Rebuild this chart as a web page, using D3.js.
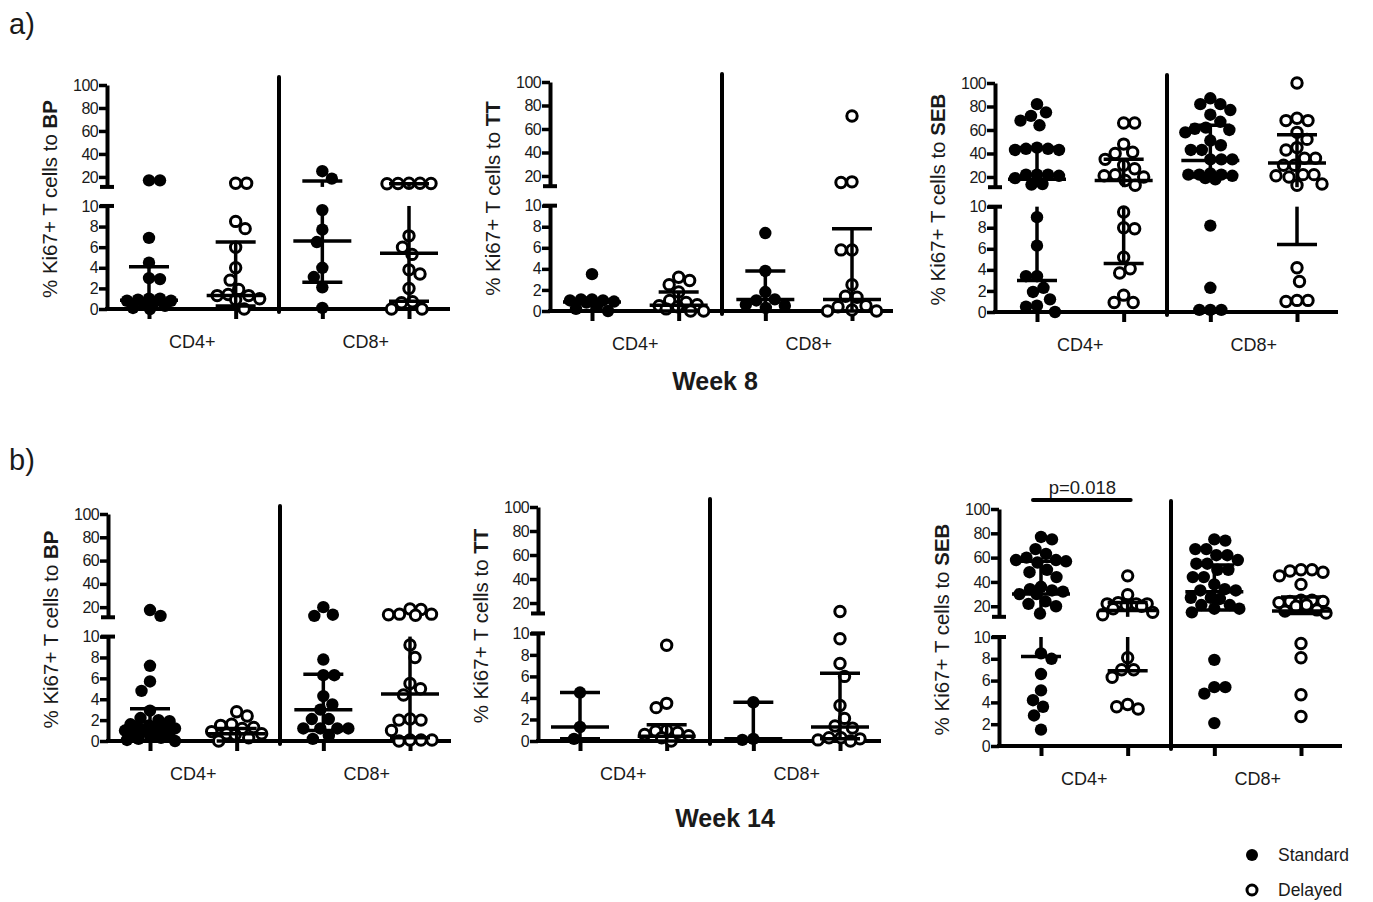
<!DOCTYPE html>
<html>
<head>
<meta charset="utf-8">
<script src="https://cdn.jsdelivr.net/npm/d3@7"></script>
<style>
  body { margin: 0; background: #fff; }
  text { font-family: "Liberation Sans", Arial, sans-serif; fill: #1a1a1a; }
</style>
</head>
<body>
<svg id="fig" width="1373" height="902"></svg>
<script>
// columns inside every panel
const columns = ["CD4+ Standard", "CD4+ Delayed", "CD8+ Standard", "CD8+ Delayed"];
const subsets = ["CD4+", "CD8+"];
const yTicksLow = [0, 2, 4, 6, 8, 10];
const yTicksHigh = [20, 40, 60, 80, 100];
const upLo = 11.3; // value at the foot of the upper (broken) segment

// Week 8 - % Ki67+ per column
const bp8 = [
  [17, 17, 6.9, 4.5, 3.0, 2.9, 1.0, 1.0, 0.9, 0.8, 0.8, 0.7, 0.5, 0.3, 0.1, 0.0],
  [14.5, 14.5, 8.5, 7.8, 6.0, 4.0, 2.8, 1.9, 1.4, 1.3, 1.3, 1.0, 0.9, 0.0],
  [25, 18.5, 9.6, 7.7, 6.5, 4.0, 3.1, 2.1, 0.1],
  [14.5, 14.3, 14, 14.3, 14.5, 7.1, 6.0, 5.3, 3.8, 3.4, 2.0, 0.7, 0.6, 0.0, 0.0]
];
const tt8 = [
  [3.5, 1.1, 1.1, 1.0, 1.0, 0.9, 0.8, 0.5, 0.2, 0.0],
  [3.2, 2.9, 2.5, 1.8, 1.0, 0.8, 0.6, 0.5, 0.4, 0.2, 0.0, 0.0],
  [7.4, 3.8, 1.8, 1.1, 1.0, 0.6, 0.5, 0.3],
  [71, 15, 14.5, 5.8, 5.8, 2.5, 1.4, 1.3, 0.5, 0.4, 0.1, 0.0, 0.0]
];
const seb8 = [
  [82, 75, 72, 68, 64, 45, 44, 44, 43, 43, 22, 22, 21, 22, 19, 14, 13.5, 9.0, 6.3, 3.4, 3.4, 2.3, 1.9, 1.2, 0.6, 0.5, 0.0],
  [66, 66, 48, 41, 40, 35, 30, 27, 22, 21, 20, 17, 13, 9.5, 8.0, 7.9, 5.2, 4.1, 3.7, 1.6, 0.9, 0.9],
  [87, 82, 82, 77, 73, 67, 62, 61, 60, 58, 51, 47, 43, 43, 35, 35, 35, 23, 22, 21, 22, 22, 19, 18, 8.2, 2.3, 0.2, 0.2, 0.2],
  [100, 70, 68, 68, 58, 52, 45, 43, 36, 36, 30, 30, 22, 21, 20, 22, 14, 13, 4.2, 2.9, 1.1, 1.0, 1.1]
];

// Week 14
const bp14 = [
  [17.5, 12.5, 7.2, 5.7, 4.8, 2.9, 2.2, 2.0, 1.9, 1.6, 1.5, 1.4, 1.3, 1.2, 1.1, 1.0, 0.9, 0.8, 0.6, 0.4, 0.3, 0.2, 0.1, 0.0],
  [2.8, 2.4, 1.6, 1.5, 1.3, 1.2, 0.9, 0.7, 0.7, 0.6, 0.3, 0.0],
  [20, 13.5, 12.5, 7.8, 6.3, 6.3, 4.3, 3.5, 3.0, 2.1, 2.1, 1.2, 1.2, 1.2, 1.2, 0.5, 0.2],
  [18.5, 18, 14, 14, 13.5, 13, 9.2, 8.0, 5.5, 5.0, 4.4, 2.1, 2.0, 2.0, 1.0, 0.1, 0.1, 0.1, 0.0]
];
const tt14 = [
  [4.5, 1.3, 0.2],
  [8.9, 3.5, 3.1, 1.0, 0.9, 0.8, 0.6, 0.5, 0.3, 0.0],
  [3.6, 0.2, 0.1],
  [13, 9.5, 7.2, 6.0, 3.3, 2.1, 1.4, 1.2, 0.3, 0.3, 0.2, 0.1, 0.0]
];
const seb14 = [
  [77, 75, 67, 63, 60, 58, 57, 56, 58, 50, 48, 44, 36, 34, 33, 32, 30, 30, 24, 22, 20, 14, 8.5, 8.0, 6.6, 5.1, 4.2, 3.6, 2.8, 1.5],
  [45, 29.5, 23, 22, 22, 22, 21, 20, 18, 15, 13, 8.1, 7.0, 7.0, 6.3, 3.8, 3.6, 3.4],
  [75, 74, 67, 67, 62, 62, 58, 55, 55, 50, 50, 44, 44, 38, 34, 33, 33, 27, 27, 26, 21, 21, 18, 18, 15, 7.9, 5.4, 5.4, 4.8, 2.1],
  [50, 49, 48, 50, 45, 38, 25, 24, 24, 25, 23, 21, 20, 17, 16, 14.5, 9.4, 8.1, 4.7, 2.7]
];

// median with interquartile range per column: [q1, median, q3]
const bp8Iqr = [[0, 0.85, 4.1], [0.3, 1.3, 6.5], [2.6, 6.6, 16.5], [0.75, 5.4, 14]];
const tt8Iqr = [[0, 0.85, 1.05], [0, 0.55, 1.8], [0, 1.1, 3.8], [0, 1.1, 7.8]];
const seb8Iqr = [[3.0, 18, 45], [4.6, 17, 35], [20, 34, 64], [6.4, 32, 56]];
const bp14Iqr = [[0, 1.2, 3.1], [0, 0.7, 1.2], [1.0, 3.0, 6.4], [0.3, 4.5, 10.8]];
const tt14Iqr = [[0.2, 1.3, 4.5], [0, 0.45, 1.5], [0.1, 0.2, 3.6], [0.2, 1.3, 6.3]];
const seb14Iqr = [[8.2, 30, 57], [6.9, 16.5, 23], [17, 32, 54], [14, 16, 27.7]];

const panels = [
  { antigen: "BP",  values: bp8,   iqr: bp8Iqr,   x0: 107, y100: 85,  y0: 309 },
  { antigen: "TT",  values: tt8,   iqr: tt8Iqr,   x0: 550, y100: 82,  y0: 311 },
  { antigen: "SEB", values: seb8,  iqr: seb8Iqr,  x0: 995, y100: 83,  y0: 312 },
  { antigen: "BP",  values: bp14,  iqr: bp14Iqr,  x0: 108, y100: 514, y0: 741 },
  { antigen: "TT",  values: tt14,  iqr: tt14Iqr,  x0: 538, y100: 507, y0: 741 },
  { antigen: "SEB", values: seb14, iqr: seb14Iqr, x0: 999, y100: 509, y0: 746, pval: "p=0.018" }
];

const svg = d3.select("#fig");
const lw = 4;

function swarm(vals, y, cx) {
  // beeswarm kept inside +-maxOff: nearest free slot, otherwise the least crowded one
  const a = 11, b = 14, maxOff = 25;
  const pts = vals.map(v => ({ v: v, py: y(v) })).sort((p, q) => p.py - q.py);
  const placed = [];
  pts.forEach((p, n) => {
    const sign = n % 2 ? 1 : -1;
    const clearance = off => d3.min(placed, q => {
      const dx = (cx + off - q.px) / a, dy = (p.py - q.py) / b;
      return dx * dx + dy * dy;
    }) ?? Infinity;
    let best = 0, bestC = -1, found = false;
    for (let s = 0; s <= maxOff && !found; s += 0.5) {
      for (const off of [sign * s, -sign * s]) {
        const c = clearance(off);
        if (c >= 1) { best = off; found = true; break; }
        if (c > bestC) { bestC = c; best = off; }
      }
    }
    p.px = cx + best;
    placed.push(p);
  });
  return pts;
}

function drawPanel(p) {
  const H = p.y0 - p.y100;
  const yLow = d3.scaleLinear().domain([0, 10]).range([p.y0, p.y0 - 0.46 * H]);
  const yHigh = d3.scaleLinear().domain([upLo, 100]).range([p.y0 - 0.545 * H, p.y100]);
  const y = v => (v <= 10 ? yLow(v) : yHigh(Math.max(v, upLo)));
  const inGap = v => v > 10 && v < upLo;
  const x = d3.scalePoint().domain(columns).range([p.x0 + 42, p.x0 + 302]);
  const xEnd = p.x0 + 343;
  const xSep = (x(columns[1]) + x(columns[2])) / 2;

  const g = svg.append("g");

  // y axis, two segments
  [[yLow, yTicksLow], [yHigh, yTicksHigh]].forEach(([sc, tv]) => {
    const ax = g.append("g")
      .attr("transform", `translate(${p.x0},0)`)
      .call(d3.axisLeft(sc).tickValues(tv).tickSize(8).tickSizeOuter(0).tickPadding(1));
    ax.attr("font-family", null).attr("font-size", null);
    ax.select(".domain").attr("stroke", "#000").attr("stroke-width", lw);
    ax.selectAll(".tick line").attr("stroke", "#000").attr("stroke-width", 3.5);
    ax.selectAll(".tick text").attr("font-size", 16).attr("fill", "#1a1a1a").attr("letter-spacing", -0.6);
  });
  // break caps
  [yLow(10), yHigh(upLo)].forEach(yy => {
    g.append("line").attr("x1", p.x0 - 7).attr("x2", p.x0 + 7)
      .attr("y1", yy).attr("y2", yy).attr("stroke", "#000").attr("stroke-width", lw);
  });

  // x axis
  g.append("line").attr("x1", p.x0 - 2).attr("x2", xEnd).attr("y1", p.y0).attr("y2", p.y0)
    .attr("stroke", "#000").attr("stroke-width", lw);
  const xa = g.append("g").attr("transform", `translate(0,${p.y0})`)
    .call(d3.axisBottom(x).tickSize(10).tickFormat(""));
  xa.select(".domain").remove();
  xa.selectAll(".tick line").attr("stroke", "#000").attr("stroke-width", lw);

  // separator between CD4+ and CD8+
  g.append("line").attr("x1", xSep).attr("x2", xSep).attr("y1", p.y100 - 8).attr("y2", p.y0 + 3)
    .attr("stroke", "#000").attr("stroke-width", lw).attr("stroke-linecap", "round");

  // points
  columns.forEach((c, i) => {
    const open = i % 2 === 1;
    const pts = swarm(p.values[i], y, x(c));
    g.append("g").selectAll("circle").data(pts).join("circle")
      .attr("cx", d => d.px).attr("cy", d => d.py)
      .attr("r", open ? 5.2 : 6.2)
      .attr("fill", open ? "#fff" : "#000")
      .attr("stroke", open ? "#000" : "none")
      .attr("stroke-width", 3);
  });

  // median + interquartile range
  columns.forEach((c, i) => {
    const [q1, med, q3] = p.iqr[i];
    const cx = x(c);
    const segs = [];
    if (q1 < 10) segs.push([yLow(q1), yLow(Math.min(q3, 10))]);
    if (q3 > upLo) segs.push([yHigh(Math.max(q1, upLo)), yHigh(q3)]);
    segs.forEach(s => g.append("line").attr("x1", cx).attr("x2", cx).attr("y1", s[0]).attr("y2", s[1])
      .attr("stroke", "#000").attr("stroke-width", 3.5));
    [[q1, 20], [med, 29], [q3, 20]].forEach(([v, hw]) => {
      if (inGap(v)) return;
      g.append("line").attr("x1", cx - hw).attr("x2", cx + hw).attr("y1", y(v)).attr("y2", y(v))
        .attr("stroke", "#000").attr("stroke-width", 3.5);
    });
  });

  // subset labels
  subsets.forEach((s, k) => {
    g.append("text").attr("x", (x(columns[2 * k]) + x(columns[2 * k + 1])) / 2).attr("y", p.y0 + 39)
      .attr("text-anchor", "middle").attr("font-size", 18).text(s);
  });

  // y label
  const lab = g.append("text")
    .attr("transform", `translate(${p.x0 - 50},${(p.y100 + p.y0) / 2 + 2}) rotate(-90)`)
    .attr("text-anchor", "middle").attr("font-size", 20.5);
  lab.append("tspan").text("% Ki67+ T cells to ");
  lab.append("tspan").attr("font-weight", "bold").text(p.antigen);

  if (p.pval) {
    const by = p.y100 - 9;
    g.append("line").attr("x1", x(columns[0]) - 8).attr("x2", x(columns[1]) + 3)
      .attr("y1", by).attr("y2", by).attr("stroke", "#000").attr("stroke-width", lw)
      .attr("stroke-linecap", "round");
    g.append("text").attr("x", (x(columns[0]) + x(columns[1])) / 2 - 2).attr("y", by - 6)
      .attr("text-anchor", "middle").attr("font-size", 18.5).text(p.pval);
  }
}

panels.forEach(drawPanel);

// figure labels
svg.append("text").attr("x", 9).attr("y", 34).attr("font-size", 29).text("a)");
svg.append("text").attr("x", 9).attr("y", 470).attr("font-size", 29).text("b)");
svg.append("text").attr("x", 715).attr("y", 390).attr("text-anchor", "middle")
  .attr("font-size", 25).attr("font-weight", "bold").text("Week 8");
svg.append("text").attr("x", 725).attr("y", 827).attr("text-anchor", "middle")
  .attr("font-size", 25).attr("font-weight", "bold").text("Week 14");

// legend
const legend = [
  { name: "Standard", open: false },
  { name: "Delayed", open: true }
];
const lg = svg.append("g").attr("transform", "translate(1252,855)");
legend.forEach((d, i) => {
  lg.append("circle").attr("cx", 0).attr("cy", i * 35).attr("r", d.open ? 5 : 6)
    .attr("fill", d.open ? "#fff" : "#000").attr("stroke", d.open ? "#000" : "none").attr("stroke-width", 3);
  lg.append("text").attr("x", 26).attr("y", i * 35 + 6).attr("font-size", 17.5).text(d.name);
});
</script>
</body>
</html>
